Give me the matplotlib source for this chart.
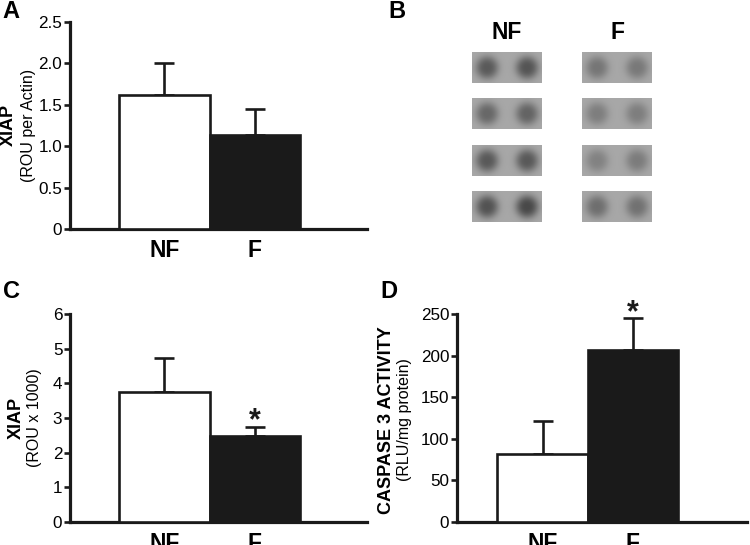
import numpy as np
import matplotlib
matplotlib.use("Agg")
import matplotlib.pyplot as plt

plt.rcParams['font.family'] = ['Liberation Sans', 'DejaVu Sans']

groups = ["NF", "F"]
# Panel A
a_vals = [1.62, 1.13]
a_err = [0.38, 0.32]
a_ticks = [0, 0.5, 1.0, 1.5, 2.0, 2.5]
a_ticklabels = ["0", "0.5", "1.0", "1.5", "2.0", "2.5"]
# Panel C
c_vals = [3.76, 2.48]
c_err = [0.96, 0.26]
c_ticks = [0, 1, 2, 3, 4, 5, 6]
# Panel D
d_vals = [82, 207]
d_err = [39, 38]
d_ticks = [0, 50, 100, 150, 200, 250]
# Panel B dot-blot darkness (4 rows x 2 dots)
b_nf = [[0.75, 0.80], [0.62, 0.66], [0.76, 0.76], [0.82, 0.92]]
b_f = [[0.48, 0.45], [0.40, 0.40], [0.36, 0.42], [0.55, 0.52]]

W, H = 750, 545
fig = plt.figure(figsize=(7.5, 5.45), dpi=100)

def px_axes(x0, y0, x1, y1):
    return fig.add_axes([x0 / W, 1 - y1 / H, (x1 - x0) / W, (y1 - y0) / H])

LW = 1.9
fc = ["white", "#1a1a1a"]

def bar_panel(ax, vals, errs, ticks, ticklabels, ylim, xlim, star):
    x = np.arange(len(vals))
    ax.bar(x, vals, width=1.0, color=fc, edgecolor="#1a1a1a", linewidth=LW, zorder=3)
    ax.errorbar(x, vals, yerr=[np.zeros(len(vals)), errs], fmt="none",
                ecolor="#1a1a1a", elinewidth=LW, capsize=7.5, capthick=LW, zorder=2)
    ax.set_xlim(*xlim)
    ax.set_ylim(*ylim)
    ax.set_yticks(ticks)
    ax.set_yticklabels(ticklabels, fontsize=12.3)
    ax.set_xticks(x)
    ax.set_xticklabels(groups, fontsize=16.5, fontweight="bold")
    ax.tick_params(axis="x", length=0, pad=7)
    ax.tick_params(axis="y", length=4, width=LW, pad=1.5, color="#1a1a1a")
    for s in ["top", "right"]:
        ax.spines[s].set_visible(False)
    for s in ["left", "bottom"]:
        ax.spines[s].set_linewidth(LW + 0.4)
        ax.spines[s].set_color("#1a1a1a")
    ax.patch.set_alpha(0)
    if star is not None:
        i = star
        ax.annotate("*", xy=(x[i], vals[i] + errs[i]), xytext=(0, -7),
                    textcoords="offset points", ha="center", va="bottom",
                    fontsize=22, fontweight="bold", color="#1a1a1a")

# Panel A
axA = px_axes(70, 22, 367, 229)
bar_panel(axA, a_vals, a_err, a_ticks, a_ticklabels, (0, 2.5), (-1.044, 2.238), None)
fig.text(8 / W, 1 - 125 / H, "XIAP", rotation=90, ha="center", va="center",
         fontsize=13, fontweight="bold")
fig.text(28 / W, 1 - 125 / H, "(ROU per Actin)", rotation=90, ha="center", va="center",
         fontsize=11.5)

# Panel C
axC = px_axes(70, 314, 367, 522)
bar_panel(axC, c_vals, c_err, c_ticks, [str(t) for t in c_ticks], (0, 6), (-1.044, 2.238), 1)
fig.text(16 / W, 1 - 418 / H, "XIAP", rotation=90, ha="center", va="center",
         fontsize=13, fontweight="bold")
fig.text(35 / W, 1 - 418 / H, "(ROU x 1000)", rotation=90, ha="center", va="center",
         fontsize=11.5)

# Panel D
axD = px_axes(457, 314, 747, 522)
bar_panel(axD, d_vals, d_err, d_ticks, [str(t) for t in d_ticks], (0, 250), (-0.945, 2.26), 1)
fig.text(386 / W, 1 - 420 / H, "CASPASE 3 ACTIVITY", rotation=90, ha="center", va="center",
         fontsize=13, fontweight="bold")
fig.text(405 / W, 1 - 420 / H, "(RLU/mg protein)", rotation=90, ha="center", va="center",
         fontsize=11.5)

# Panel B dot blot
axB = px_axes(450, 0, 680, 240)
axB.axis("off")
box_w, box_h = 70, 31
lane_x = [472, 582]
row_y = [52, 98, 145, 191]
dot_dx = [15, 55]
bg = 0.655
yy, xx = np.mgrid[0:box_h * 4, 0:box_w * 4] / 4.0
for lx, data in zip(lane_x, [b_nf, b_f]):
    for ry, row in zip(row_y, data):
        img = np.full(xx.shape, bg)
        for dx, d in zip(dot_dx, row):
            r2 = (xx - dx) ** 2 + (yy - box_h / 2) ** 2
            img -= 0.40 * d * np.exp(-(r2 / (2 * 8.0 ** 2)) ** 1.5)
        axB.imshow(img, cmap="gray", vmin=0, vmax=1, extent=(lx, lx + box_w, ry + box_h, ry),
                   interpolation="bilinear", zorder=2)
for lx, g in zip(lane_x, groups):
    axB.text(lx + box_w / 2, 32, g, ha="center", va="center", fontsize=16.5, fontweight="bold")
axB.set_xlim(450, 680)
axB.set_ylim(240, 0)

# Panel letters
for lab, x, y in [("A", 2, 12), ("B", 388, 12), ("C", 3, 292), ("D", 380, 292)]:
    fig.text(x / W, 1 - y / H, lab, ha="left", va="center", fontsize=17, fontweight="bold")

fig.savefig("out.png", dpi=100)
